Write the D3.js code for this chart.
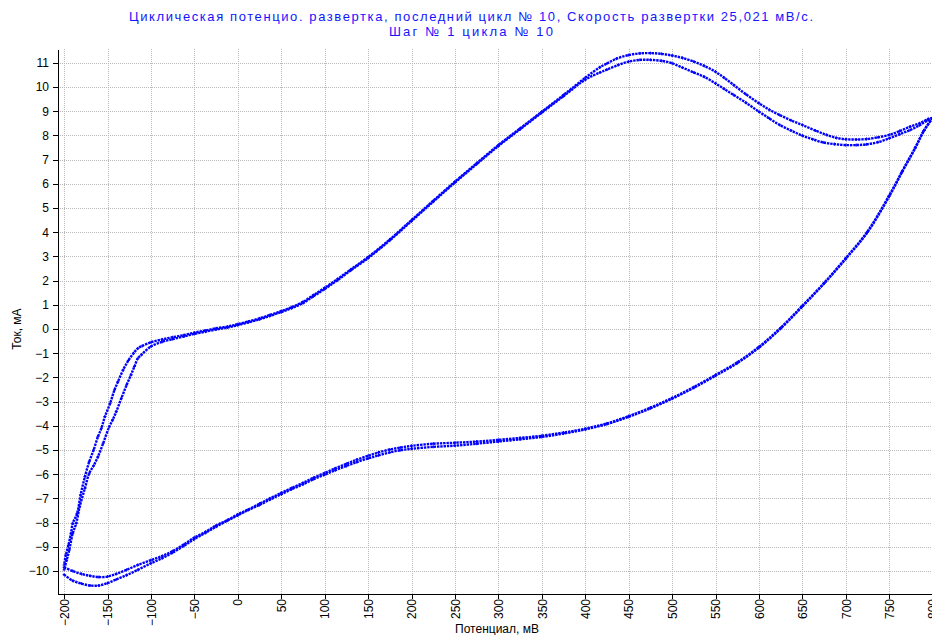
<!DOCTYPE html>
<html lang="ru">
<head>
<meta charset="UTF-8" />
<title>Циклическая потенцио. развертка</title>
<script src="https://cdn.jsdelivr.net/npm/d3@7"></script>
<style>
  body { margin: 0; background: #fff; }
  svg { display: block; font-family: "Liberation Sans", Arial, sans-serif; }
  .grid line { stroke: #b9b9b9; stroke-dasharray: 1,1; shape-rendering: crispEdges; }
  .axis path, .axis line { stroke: #000; shape-rendering: crispEdges; }
  .axis text { fill: #000; font-size: 12px; }
  .title { fill: #1414ff; font-size: 13px; }
  .branch { fill: none; stroke: #0000ff; stroke-width: 2.4; stroke-dasharray: 2.4,0.9; }
  .mark { stroke: #0000ff; stroke-width: 1; fill: none; }
</style>
</head>
<body>
<svg id="chart" width="932" height="635"></svg>
<script>
// potentials (mV) and currents (mA), cycles 9 and 10
const fwdPotential = [-200,-190,-180,-170,-160,-150,-140,-128,-115,-100,
  -87,-75,-62,-50,-37,-25,-12,0,12,25,
  37,50,62,75,87,100,112,125,137,150,
  162,175,187,200,225,250,275,300,325,350,
  375,400,425,450,475,500,525,550,575,600,
  625,650,675,700,725,750,765,780,790,800];
const fwdCurrent9 = [-9.85,-10.0,-10.12,-10.2,-10.25,-10.23,-10.12,-9.95,-9.75,-9.55,
  -9.38,-9.18,-8.9,-8.62,-8.38,-8.12,-7.9,-7.66,-7.46,-7.22,
  -7.0,-6.77,-6.57,-6.36,-6.15,-5.95,-5.76,-5.57,-5.4,-5.24,
  -5.1,-4.98,-4.9,-4.83,-4.74,-4.7,-4.65,-4.58,-4.5,-4.41,
  -4.28,-4.12,-3.9,-3.6,-3.25,-2.85,-2.4,-1.9,-1.38,-0.74,
  0.05,0.96,1.9,2.93,4.03,5.52,6.52,7.5,8.2,8.72];
const fwdCurrent10 = [-10.15,-10.4,-10.52,-10.6,-10.6,-10.5,-10.35,-10.17,-9.95,-9.68,
  -9.47,-9.24,-8.96,-8.68,-8.42,-8.17,-7.92,-7.7,-7.48,-7.27,
  -7.05,-6.83,-6.62,-6.42,-6.21,-6.02,-5.84,-5.66,-5.5,-5.35,
  -5.22,-5.1,-5.01,-4.95,-4.87,-4.82,-4.74,-4.65,-4.56,-4.46,
  -4.32,-4.15,-3.93,-3.63,-3.28,-2.88,-2.43,-1.93,-1.41,-0.77,
  0.02,0.93,1.88,2.9,4.0,5.48,6.5,7.48,8.2,8.72];

const revPotential9 = [800,795,785,774,762,750,737,724,712,700,
  689,678,665,650,637,624,612,600,585,571,
  560,550,537,525,512,500,488,475,463,450,
  436,425,417,400,375,350,325,300,275,250,
  225,200,175,150,130,115,100,87,75,62,
  50,37,25,12,0,-12,-25,-37,-50,-62,
  -75,-87,-100,-110,-115,-120,-126,-132,-138,-142,
  -147,-153,-157,-161,-166,-171,-176,-181,-185,-190,
  -192,-195,-198,-200];
const revCurrent9 = [8.72,8.68,8.5,8.36,8.18,8.02,7.92,7.85,7.83,7.84,
  7.9,8.02,8.2,8.43,8.62,8.84,9.06,9.33,9.7,10.08,
  10.38,10.63,10.87,11.05,11.2,11.3,11.37,11.4,11.39,11.32,
  11.17,10.97,10.82,10.38,9.67,8.98,8.29,7.6,6.85,6.09,
  5.3,4.5,3.7,2.97,2.46,2.07,1.7,1.4,1.12,0.9,
  0.74,0.58,0.44,0.31,0.2,0.1,0.03,-0.06,-0.15,-0.25,
  -0.34,-0.43,-0.55,-0.7,-0.8,-1.0,-1.3,-1.69,-2.18,-2.52,
  -3.07,-3.62,-4.1,-4.45,-5.0,-5.48,-6.1,-6.86,-7.62,-8.03,
  -8.44,-8.93,-9.34,-9.75];

const revPotential10 = [800,793,785,774,762,750,737,724,712,700,
  687,674,662,650,637,624,612,600,585,571,
  560,550,537,525,512,500,488,475,463,450,
  438,425,417,400,375,350,325,300,275,250,
  225,200,175,150,130,115,100,87,75,62,
  50,37,25,12,0,-12,-25,-37,-50,-62,
  -75,-87,-100,-111,-115,-119,-123,-128,-134,-140,
  -144,-148,-155,-161,-166,-171,-176,-182,-186,-190,
  -194,-197,-200];
const revCurrent10 = [8.72,8.6,8.42,8.22,8.05,7.88,7.72,7.63,7.6,7.6,
  7.64,7.71,7.84,7.99,8.2,8.43,8.7,8.98,9.35,9.67,
  9.92,10.15,10.42,10.6,10.8,10.98,11.08,11.12,11.12,11.05,
  10.91,10.72,10.6,10.3,9.62,8.94,8.25,7.56,6.81,6.05,
  5.26,4.46,3.66,2.93,2.42,2.02,1.65,1.35,1.07,0.86,
  0.7,0.54,0.4,0.27,0.16,0.06,-0.02,-0.11,-0.2,-0.31,
  -0.42,-0.53,-0.72,-1.07,-1.21,-1.55,-1.9,-2.31,-2.86,-3.42,
  -3.75,-4.04,-4.72,-5.28,-5.65,-5.96,-6.58,-7.34,-8.03,-8.44,
  -9.13,-9.55,-9.95];

const potentialTicks = [-200,-150,-100,-50,0,50,100,150,200,250,300,350,400,450,500,550,600,650,700,750,800];
const currentTicks = [-10,-9,-8,-7,-6,-5,-4,-3,-2,-1,0,1,2,3,4,5,6,7,8,9,10,11];

const titleLines = [
  "Циклическая потенцио. развертка, последний цикл № 10, Скорость развертки 25,021 мВ/с.",
  "Шаг № 1 цикла № 10"
];

const svg = d3.select("#chart");
const m = { left: 58, right: 937, top: 49, bottom: 594 };

const x = d3.scaleLinear().domain([-207, 805]).range([m.left, m.right]);
const y = d3.scaleLinear().domain([-10.95, 11.57]).range([m.bottom, m.top]);

// grid
const grid = svg.append("g").attr("class", "grid");
grid.selectAll("line.v").data(potentialTicks).join("line").attr("class", "v")
  .attr("x1", d => Math.round(x(d)) + 0.5).attr("x2", d => Math.round(x(d)) + 0.5)
  .attr("y1", m.top).attr("y2", m.bottom);
grid.selectAll("line.h").data(currentTicks).join("line").attr("class", "h")
  .attr("x1", m.left).attr("x2", 932)
  .attr("y1", d => Math.round(y(d)) + 0.5).attr("y2", d => Math.round(y(d)) + 0.5);

// axes
const yAxis = svg.append("g").attr("class", "axis")
  .attr("transform", `translate(${m.left},0)`)
  .call(d3.axisLeft(y).tickValues(currentTicks).tickSize(5).tickSizeOuter(0).tickPadding(4));
yAxis.select(".domain").attr("stroke-width", 1.6);

const xAxis = svg.append("g").attr("class", "axis")
  .attr("transform", `translate(0,${m.bottom})`)
  .call(d3.axisBottom(x).tickValues(potentialTicks).tickSize(5).tickSizeOuter(0));
xAxis.select(".domain").attr("stroke-width", 1.6);
xAxis.selectAll("text")
  .attr("transform", "rotate(-90)")
  .attr("text-anchor", "end")
  .attr("x", -5).attr("y", 0).attr("dy", "0.35em");

// axis titles
svg.append("text").attr("x", 497).attr("y", 633).attr("text-anchor", "middle")
  .attr("font-size", 12).text("Потенциал, мВ");
svg.append("text").attr("transform", "translate(21,329) rotate(-90)").attr("text-anchor", "middle")
  .attr("font-size", 12).text("Ток, мА");

// title, stretched to the width it has in the original
const titleWidths = [684, 164];
svg.selectAll("text.title").data(titleLines).join("text").attr("class", "title")
  .attr("x", 471).attr("y", (d, i) => 21 + i * 15).attr("text-anchor", "middle")
  .attr("textLength", (d, i) => titleWidths[i]).attr("lengthAdjust", "spacing")
  .text(d => d);

// curves
const series = [
  { potential: fwdPotential, current: fwdCurrent9 },
  { potential: fwdPotential, current: fwdCurrent10 },
  { potential: revPotential9, current: revCurrent9 },
  { potential: revPotential10, current: revCurrent10 }
].map(s => s.potential.map((p, i) => [p, s.current[i]]));

const line = d3.line().x(d => x(d[0])).y(d => y(d[1])).curve(d3.curveCatmullRom);
const plot = svg.append("g");
plot.selectAll("path.branch").data(series).join("path").attr("class", "branch").attr("d", line);

plot.selectAll("g.marks").data(series).join("g").attr("class", "marks")
  .selectAll("path").data(d => d).join("path").attr("class", "mark")
  .attr("transform", d => `translate(${x(d[0])},${y(d[1])})`)
  .attr("d", "M-1.5,0H1.5M0,-1.5V1.5");
</script>
</body>
</html>
